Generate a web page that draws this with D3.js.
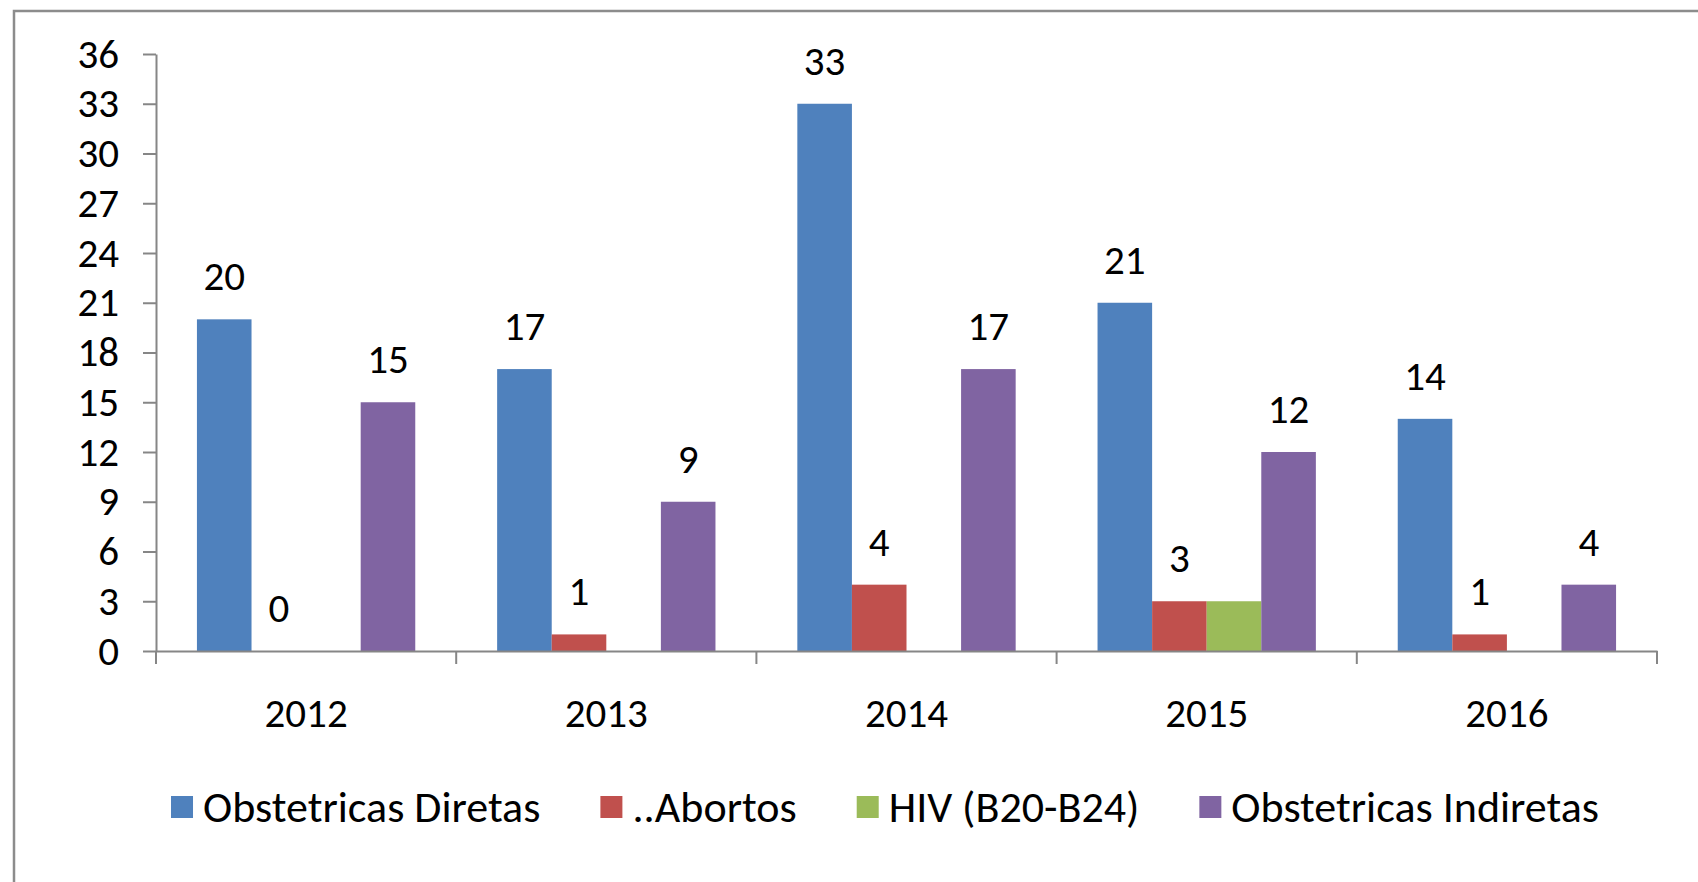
<!DOCTYPE html>
<html>
<head>
<meta charset="utf-8">
<script src="https://cdn.jsdelivr.net/npm/d3@7"></script>
<style>
  body { margin: 0; background: #fff; }
  svg text { font-family: "Carlito", "Liberation Sans Narrow", "DejaVu Sans Condensed", sans-serif; fill: #000; }
</style>
</head>
<body>
<script>
// chart data
let years = ["2012", "2013", "2014", "2015", "2016"];
let seriesNames = ["Obstetricas Diretas", "..Abortos", "HIV (B20-B24)", "Obstetricas Indiretas"];
let diretas = [20, 17, 33, 21, 14];
let abortos = [0, 1, 4, 3, 1];
let hiv = [null, null, null, 3, null];
let indiretas = [15, 9, 17, 12, 4];
let seriesColors = ["#4f81bd", "#c0504d", "#9bbb59", "#8064a2"];
let showLabels = [true, true, false, true];
let yTicks = [0, 3, 6, 9, 12, 15, 18, 21, 24, 27, 30, 33, 36];

let seriesValues = [diretas, abortos, hiv, indiretas];

let W = 1698, H = 882;
let fontSize = "41px";
let legendFont = "44px";

let svg = d3.select("body").append("svg")
    .attr("width", W)
    .attr("height", H);

svg.append("rect").attr("width", W).attr("height", H).attr("fill", "#fff");

// outer chart border (only top and left are in view)
svg.append("path")
    .attr("d", "M14," + H + "V11H" + W)
    .attr("fill", "none")
    .attr("stroke", "#8c8c8c")
    .attr("stroke-width", 2.5);

let plot = {left: 156, right: 1657, top: 54, bottom: 651};

let x = d3.scaleBand()
    .domain(years)
    .range([plot.left, plot.right])
    .padding(0);

let xInner = d3.scaleBand()
    .domain(seriesNames)
    .range([0, x.bandwidth()])
    .paddingInner(0)
    .paddingOuter(0.75);

let y = d3.scaleLinear()
    .domain([0, 36])
    .range([plot.bottom, plot.top]);

let cells = [];
years.forEach((yr, i) => {
    seriesNames.forEach((s, j) => {
        cells.push({year: yr, series: s, idx: j, value: seriesValues[j][i]});
    });
});

// bars
svg.selectAll(".bar")
    .data(cells.filter(d => d.value !== null))
    .enter().append("rect")
    .attr("class", "bar")
    .attr("x", d => x(d.year) + xInner(d.series))
    .attr("width", xInner.bandwidth())
    .attr("y", d => y(d.value))
    .attr("height", d => y(0) - y(d.value))
    .attr("fill", d => seriesColors[d.idx]);

// y axis
let yAxis = d3.axisLeft(y)
    .tickValues(yTicks)
    .tickSize(13)
    .tickSizeOuter(0)
    .tickPadding(24);

let gy = svg.append("g")
    .attr("transform", "translate(" + plot.left + ",0)")
    .call(yAxis);
gy.select(".domain").attr("stroke", "#868686").attr("stroke-width", 2);
gy.selectAll(".tick line").attr("stroke", "#868686").attr("stroke-width", 2);
gy.selectAll(".tick text").style("font-size", fontSize).attr("fill", "#000");

// x axis: labels centred, ticks on the category boundaries
let xAxis = d3.axisBottom(x)
    .tickSize(0)
    .tickSizeOuter(0)
    .tickPadding(76);

let gx = svg.append("g")
    .attr("transform", "translate(0," + plot.bottom + ")")
    .call(xAxis);
gx.select(".domain").attr("stroke", "#868686").attr("stroke-width", 2);
gx.selectAll(".tick text").style("font-size", fontSize).attr("fill", "#000").attr("dy", "0");

let bounds = years.map(d => x(d)).concat([x(years[years.length - 1]) + x.bandwidth()]);
gx.selectAll(".bound")
    .data(bounds)
    .enter().append("line")
    .attr("class", "bound")
    .attr("x1", d => d).attr("x2", d => d)
    .attr("y1", 0).attr("y2", 13)
    .attr("stroke", "#868686")
    .attr("stroke-width", 2);

// data labels
svg.selectAll(".label")
    .data(cells.filter(d => d.value !== null && showLabels[d.idx]))
    .enter().append("text")
    .attr("class", "label")
    .attr("x", d => x(d.year) + xInner(d.series) + xInner.bandwidth() / 2)
    .attr("y", d => y(d.value) - 29)
    .attr("text-anchor", "middle")
    .style("font-size", fontSize)
    .text(d => d.value);

// legend
let legend = svg.append("g").attr("class", "legend");
let swatch = 22, swGap = 10, itemGap = 60;
let items = legend.selectAll(".item")
    .data(seriesNames)
    .enter().append("g")
    .attr("class", "item");
items.append("rect")
    .attr("width", swatch)
    .attr("height", swatch)
    .attr("y", -swatch / 2)
    .attr("fill", (d, i) => seriesColors[i]);
items.append("text")
    .attr("x", swatch + swGap)
    .attr("y", 0)
    .attr("dy", "0.35em")
    .style("font-size", legendFont)
    .text(d => d);

let offset = 0;
items.each(function() {
    let w = swatch + swGap + d3.select(this).select("text").node().getComputedTextLength();
    d3.select(this).attr("transform", "translate(" + offset + ",0)");
    offset += w + itemGap;
});
let legendWidth = offset - itemGap;
legend.attr("transform", "translate(" + (885 - legendWidth / 2) + ",807)");
</script>
</body>
</html>
